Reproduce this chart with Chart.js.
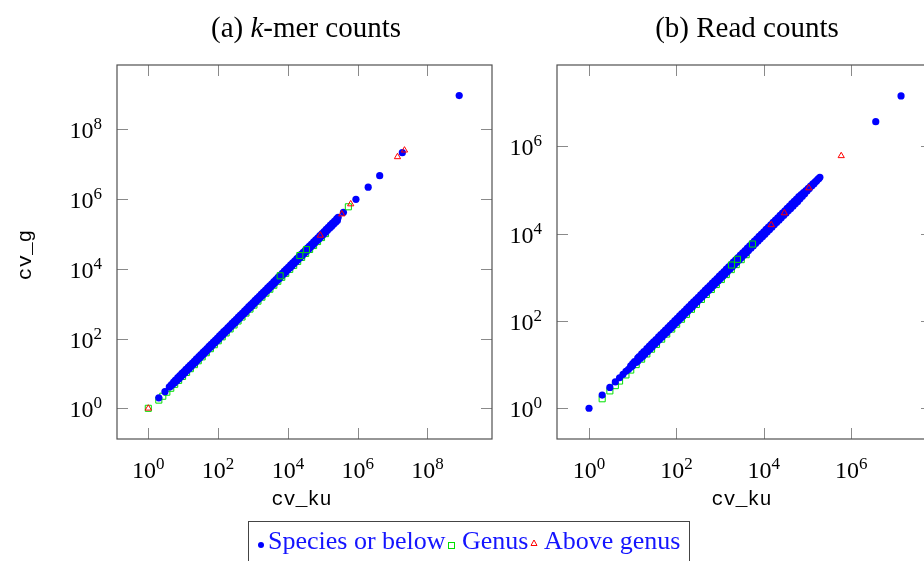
<!DOCTYPE html>
<html>
<head>
<meta charset="utf-8">
<script src="https://cdn.jsdelivr.net/npm/chart.js@4.4.1/dist/chart.umd.min.js"></script>
<style>
    html, body { margin: 0; padding: 0; width: 924px; height: 561px; overflow: hidden; background: #fff; }
    canvas { position: absolute; top: 0; }
    #cvA { left: 0; }
    #cvB { left: 505px; }
    .title {
        position: absolute; top: 11px; width: 320px; text-align: center;
        font-family: "Liberation Serif", serif; font-size: 29px; line-height: 32px; color: #000;
        white-space: nowrap;
    }
    #legend {
        position: absolute; left: 248px; top: 521px; width: 442px; height: 60px;
        border: 1px solid #444; box-sizing: border-box;
        font-family: "Liberation Serif", serif; font-size: 26px; color: #1414ff;
    }
    #legend span { position: absolute; white-space: nowrap; }
    #legend .lt { top: 5px; line-height: 28px; }
</style>
</head>
<body>
<canvas id="cvA" width="505" height="561"></canvas>
<canvas id="cvB" width="440" height="561"></canvas>
<div class="title" style="left:146px">(a) <i>k</i>-mer counts</div>
<div class="title" style="left:587px">(b) Read counts</div>
<div id="legend">
    <span style="left:9px;top:20px;width:6px;height:6px;border-radius:50%;background:#0000ff"></span>
    <span class="lt" style="left:19px">Species or below</span>
    <span style="left:199px;top:20px;width:5px;height:5px;border:1px solid #00e000"></span>
    <span class="lt" style="left:213px">Genus</span>
    <svg style="position:absolute;left:281px;top:17px" width="8" height="8"><polygon points="4,1 7,6.5 1,6.5" fill="none" stroke="#ff0000" stroke-width="1"/></svg>
    <span class="lt" style="left:295px">Above genus</span>
</div>
<script>
// ===== (a) k-mer counts =====
// 物種帶（密集點）上緣一列：cv_ku / cv_g
const kmerUpperX = [
    4, 4.6, 5.3, 6, 7, 8, 9.2, 10.5, 12, 14, 16, 18.4, 21, 24, 28, 32, 37, 42, 48, 55, 63, 73, 84, 96,
    110, 126, 145, 166, 191, 219, 251, 288, 331, 380, 436, 500, 575, 660, 757, 870, 998, 1146, 1315,
    1510, 1733, 1990, 2284, 2622, 3010, 3456, 3967, 4554, 5228, 6002, 6890, 7910, 9081, 10420, 11970,
    13740, 15770, 18110, 20790, 23860, 27390, 31450, 36100, 41450, 47580, 54620, 62700, 71980, 82640,
    94870, 108900, 125000, 143500, 164800, 189200, 217200, 249300, 275000
];
const kmerUpperY = [
    4.1, 4.8, 5.6, 6.4, 7.6, 8.6, 10, 11.3, 13, 15.1, 17.3, 19.9, 22.6, 26, 30.2, 34.6, 40, 45.3, 51.9, 59.4,
    68, 79, 90.7, 103.7, 118.8, 136, 157, 179, 206, 237, 271, 311, 357, 411, 471, 540, 621, 713, 818, 940,
    1078, 1238, 1420, 1631, 1872, 2149, 2467, 2832, 3251, 3732, 4284, 4918, 5646, 6482, 7441, 8543, 9807,
    11250, 12930, 14840, 17030, 19560, 22450, 25770, 29580, 33970, 38990, 44770, 51390, 58990, 67720,
    77740, 89250, 102500, 117600, 135000, 155000, 178000, 204300, 234600, 269200, 297000
];
// 物種帶下緣一列
const kmerLowerX = [
    4.3, 4.9, 5.6, 6.5, 7.5, 8.6, 9.9, 11.3, 13, 15, 17.2, 19.7, 22.6, 26, 29.8, 34.3, 39.4, 45.2, 51.9,
    59.6, 68.4, 78.6, 90.2, 103.6, 119, 136.6, 156.9, 180, 206.7, 237.4, 272.5, 312.9, 359.3, 412.5, 473.6,
    543.8, 624.4, 716.9, 823.1, 945, 1085, 1246, 1430, 1642, 1885, 2165, 2485, 2853, 3276, 3762, 4319,
    4959, 5694, 6537, 7505, 8617, 9894, 11360, 13040, 14980, 17190, 19740, 22670, 26020, 29880, 34310,
    39390, 45220, 51920, 59610, 68450, 78590, 90230, 103600, 119000, 136600, 156800, 180000, 206700,
    237300, 262000
];
const kmerLowerY = [
    4.2, 4.7, 5.3, 6.1, 6.95, 8, 9.2, 10.5, 12.1, 13.9, 16, 18.3, 21, 24.2, 27.7, 31.9, 36.6, 42, 48.3,
    55.4, 63.6, 73.1, 83.9, 96.3, 110.7, 127, 145.9, 167.4, 192.2, 220.8, 253.4, 291, 334.1, 383.6, 440.4,
    505.7, 580.7, 666.7, 765.5, 878.9, 1009, 1159, 1330, 1527, 1753, 2013, 2311, 2653, 3047, 3499, 4017,
    4612, 5295, 6079, 6980, 8014, 9201, 10560, 12130, 13930, 15990, 18360, 21080, 24200, 27790, 31910,
    36630, 42050, 48290, 55440, 63660, 73090, 83910, 96350, 110700, 127000, 145800, 167400, 192200,
    220700, 243700
];
// 物種其餘散點
const kmerSpeciesOther = [
    [2, 2], [3, 3], [390000, 417000], [890000, 980000], [2000000, 2190000], [4270000, 4680000],
    [19000000, 21400000], [810000000, 930000000]
];
const kmerGenusBehind = [
    [2, 1.72], [2.6, 2.22], [3.4, 2.9], [4.4, 3.76], [5.7, 4.87], [7.4, 6.33], [9.6, 8.2], [12.5, 10.7],
    [16, 13.7], [21, 17.9], [27, 23.1], [35, 29.9], [46, 39.3], [60, 51.3], [78, 66.7], [101, 86.4],
    [131, 112], [170, 145], [221, 189], [287, 245], [373, 319], [485, 415], [630, 539], [820, 701],
    [1066, 911], [1385, 1184], [1800, 1539], [2340, 2001], [3040, 2599], [3950, 3377], [5140, 4395],
    [6680, 5711], [8680, 7421], [11280, 9644], [14670, 12540], [19070, 16300], [24790, 21200],
    [32230, 27560], [41890, 35820], [54460, 46560], [70800, 60530], [92000, 78660], [119600, 102300]
];
const kmerGenusFront = [[1, 1], [6000, 6300], [22000, 24000], [34000, 35500], [540000, 600000]];
const kmerAbove = [
    [1, 1], [85000, 91000], [350000, 370000], [630000, 720000], [13800000, 16200000], [21900000, 25100000]
];

// ===== (b) Read counts =====
const readUpperX = [
    9, 10, 11, 13, 14, 16, 18, 21, 24, 27, 30, 34, 39, 44, 50, 56, 64, 72, 81, 92, 104, 118, 133, 151,
    171, 193, 219, 247, 280, 316, 358, 405, 458, 518, 586, 663, 750, 848, 959, 1085, 1227, 1388, 1570,
    1776, 2009, 2272, 2570, 2907, 3288, 3719, 4207, 4759, 5383, 6089, 6887, 7790, 8812, 9968, 11270,
    12750, 14420, 16310, 18450, 20870, 23610, 26710, 30210, 34170, 38650, 43720, 49450, 55940, 63270,
    71570, 80950, 91570, 103600, 117200, 132500, 149900, 169600, 191800
];
const readUpperY = [
    9.3, 10.5, 11.7, 14, 15.2, 17.5, 19.8, 23.1, 26.4, 29.7, 33, 37.4, 42.9, 48.4, 55, 61.6, 70.4, 79.2,
    89.1, 101, 114, 130, 146, 166, 188, 212, 241, 272, 308, 348, 394, 446, 504, 570, 645, 729, 825, 933,
    1055, 1194, 1350, 1527, 1727, 1954, 2210, 2499, 2827, 3198, 3617, 4091, 4628, 5235, 5921, 6698,
    7576, 8569, 9693, 10960, 12400, 14030, 15860, 17940, 20300, 22960, 25970, 29380, 33230, 37590,
    42520, 48090, 54400, 61530, 69600, 77300, 86200, 96600, 108800, 122000, 136500, 152900, 171300, 193700
];
const readLowerX = [
    8, 9, 10, 12, 13, 15, 17, 19, 22, 25, 28, 32, 36, 41, 47, 53, 60, 68, 76, 86, 98, 111, 125, 142, 161,
    182, 206, 233, 263, 298, 337, 381, 431, 488, 552, 624, 706, 798, 903, 1021, 1155, 1306, 1478, 1671,
    1890, 2138, 2418, 2735, 3094, 3500, 3959, 4478, 5065, 5729, 6480, 7330, 8292, 9379, 10610, 12000,
    13570, 15350, 17360, 19640, 22220, 25130, 28430, 32150, 36370, 41140, 46530, 52630, 59530, 67340,
    76170, 86160, 97460, 110200, 124700, 141000, 159500, 180400
];
const readLowerY = [
    7.8, 8.7, 9.5, 11.2, 12, 13.8, 15.5, 17.3, 20, 22.8, 25.5, 29.1, 32.8, 37.3, 42.8, 48.2, 54.6, 61.9,
    69.2, 78.3, 89.2, 101, 114, 129, 147, 166, 187, 212, 239, 271, 307, 347, 392, 444, 502, 568, 642, 726,
    822, 929, 1051, 1188, 1345, 1521, 1720, 1946, 2200, 2489, 2816, 3185, 3603, 4075, 4609, 5213, 5897,
    6670, 7546, 8535, 9655, 10920, 12350, 13970, 15800, 17870, 20220, 22870, 25870, 29260, 33100, 37440,
    42340, 47890, 54170, 62630, 71600, 81850, 93560, 106900, 122200, 138200, 157900, 180400
];
const readSpeciesOther = [
    [1, 1], [2, 2], [3, 3], [4, 4], [5, 5], [6, 6], [7, 7], [3640000, 3640000], [13800000, 14100000]
];
const readGenusBehind = [
    [2, 1.65], [3, 2.5], [4, 3.3], [5, 4.2], [7, 5.8], [9, 7.5], [12, 10], [16, 13.3], [21, 17.5], [27, 22.5],
    [35, 29], [46, 38.2], [60, 50], [78, 65], [101, 84], [131, 109], [170, 141], [221, 184], [287, 238],
    [373, 310], [485, 403], [630, 523], [820, 681], [1066, 885], [1385, 1150], [1800, 1494], [2340, 1942],
    [3040, 2523], [3950, 3279]
];
const readGenusFront = [[1820, 1900], [2500, 2570], [5500, 5750]];
const readAbove = [[14800, 15800], [29500, 29500], [107000, 110000], [590000, 600000]];

// 刻度
const kmerXTicks = [1, 1e2, 1e4, 1e6, 1e8];
const kmerYTicks = [1, 1e2, 1e4, 1e6, 1e8];
const readXTicks = [1, 1e2, 1e4, 1e6];
const readYTicks = [1, 1e2, 1e4, 1e6];

const SERIF = '"Liberation Serif", serif';
const MONO = '"Liberation Mono", monospace';

// 畫 10^n 標籤
function drawPow(ctx, v, x, y, align) {
    const exp = String(Math.round(Math.log10(v)));
    ctx.font = '24px ' + SERIF;
    const wb = ctx.measureText('10').width;
    ctx.font = '17px ' + SERIF;
    const we = ctx.measureText(exp).width;
    const left = align === 'right' ? x - wb - we : x - (wb + we) / 2;
    ctx.font = '24px ' + SERIF;
    ctx.fillText('10', left, y);
    ctx.font = '17px ' + SERIF;
    ctx.fillText(exp, left + wb, y - 9);
}

// pgfplots 風格外框與內側刻度
const pgfAxes = {
    id: 'pgfAxes',
    beforeDatasetsDraw(chart, args, o) {
        const { ctx, chartArea: a, scales: { x, y } } = chart;
        ctx.save();
        ctx.strokeStyle = '#8a8a8a';
        ctx.lineWidth = 1;
        ctx.beginPath();
        o.xTicks.forEach(v => {
            const px = Math.round(x.getPixelForValue(v)) + 0.5;
            ctx.moveTo(px, a.bottom); ctx.lineTo(px, a.bottom - 11);
            ctx.moveTo(px, a.top); ctx.lineTo(px, a.top + 11);
        });
        o.yTicks.forEach(v => {
            const py = Math.round(y.getPixelForValue(v)) + 0.5;
            ctx.moveTo(a.left, py); ctx.lineTo(a.left + 11, py);
            ctx.moveTo(a.right, py); ctx.lineTo(a.right - 11, py);
        });
        ctx.stroke();
        ctx.restore();
    },
    afterDatasetsDraw(chart, args, o) {
        const { ctx, chartArea: a, scales: { x, y } } = chart;
        ctx.save();
        ctx.strokeStyle = '#505050';
        ctx.lineWidth = 1.2;
        ctx.strokeRect(a.left, a.top, a.right - a.left, a.bottom - a.top);

        ctx.fillStyle = '#000';
        ctx.textAlign = 'left';
        ctx.textBaseline = 'alphabetic';
        o.xTicks.forEach(v => drawPow(ctx, v, x.getPixelForValue(v), a.bottom + 39, 'center'));
        o.yTicks.forEach(v => drawPow(ctx, v, a.left - 15, y.getPixelForValue(v) + 9, 'right'));

        ctx.font = '20px ' + MONO;
        ctx.textAlign = 'center';
        ctx.fillText(o.xTitle, (a.left + a.right) / 2 - 3, a.bottom + 66);
        if (o.yTitle) {
            ctx.font = '21px ' + MONO;
            ctx.translate(a.left - 86, (a.top + a.bottom) / 2 + 3);
            ctx.rotate(-Math.PI / 2);
            ctx.fillText(o.yTitle, 0, 0);
        }
        ctx.restore();
    }
};

function toPoints(list) {
    return list.map(p => ({ x: p[0], y: p[1] }));
}

function zipPoints(xs, ys) {
    return xs.map((v, i) => ({ x: v, y: ys[i] }));
}

function makeDatasets(species, genusBehind, genusFront, above) {
    const clear = 'rgba(0,0,0,0)';
    return [
        { label: 'Above genus', data: toPoints(above), order: 0, pointStyle: 'triangle',
          pointRadius: 3.6, borderWidth: 1, borderColor: '#ff0000', backgroundColor: clear },
        { label: 'Genus', data: toPoints(genusFront), order: 1, pointStyle: 'rect',
          pointRadius: 4.3, borderWidth: 1, borderColor: '#00e000', backgroundColor: clear },
        { label: 'Species or below', data: species, order: 2, pointStyle: 'circle',
          pointRadius: 3.6, borderWidth: 0, backgroundColor: '#0000ff' },
        { label: 'Genus', data: toPoints(genusBehind), order: 3, pointStyle: 'rect',
          pointRadius: 4.3, borderWidth: 1, borderColor: '#00e000', backgroundColor: clear }
    ];
}

function makeChart(id, datasets, lim, pad, axes) {
    return new Chart(document.getElementById(id), {
        type: 'scatter',
        data: { datasets: datasets },
        options: {
            responsive: false,
            animation: false,
            events: [],
            layout: { padding: pad },
            plugins: {
                legend: { display: false },
                tooltip: { enabled: false },
                pgfAxes: axes
            },
            scales: {
                x: { type: 'logarithmic', display: false, min: lim[0], max: lim[1] },
                y: { type: 'logarithmic', display: false, min: lim[2], max: lim[3] }
            }
        },
        plugins: [pgfAxes]
    });
}

const kmerSpecies = zipPoints(kmerUpperX, kmerUpperY)
    .concat(zipPoints(kmerLowerX, kmerLowerY), toPoints(kmerSpeciesOther));
const readSpecies = zipPoints(readUpperX, readUpperY)
    .concat(zipPoints(readLowerX, readLowerY), toPoints(readSpeciesOther));

makeChart('cvA', makeDatasets(kmerSpecies, kmerGenusBehind, kmerGenusFront, kmerAbove),
    [0.1268, 7.05e9, 0.1318, 6.98e9],
    { left: 117, right: 13, top: 65, bottom: 122 },
    { xTicks: kmerXTicks, yTicks: kmerYTicks, xTitle: 'cv_ku', yTitle: 'cv_g' });

makeChart('cvB', makeDatasets(readSpecies, readGenusBehind, readGenusFront, readAbove),
    [0.185, 7.05e7, 0.198, 7.2e7],
    { left: 52, right: 13, top: 65, bottom: 122 },
    { xTicks: readXTicks, yTicks: readYTicks, xTitle: 'cv_ku', yTitle: '' });
</script>
</body>
</html>
